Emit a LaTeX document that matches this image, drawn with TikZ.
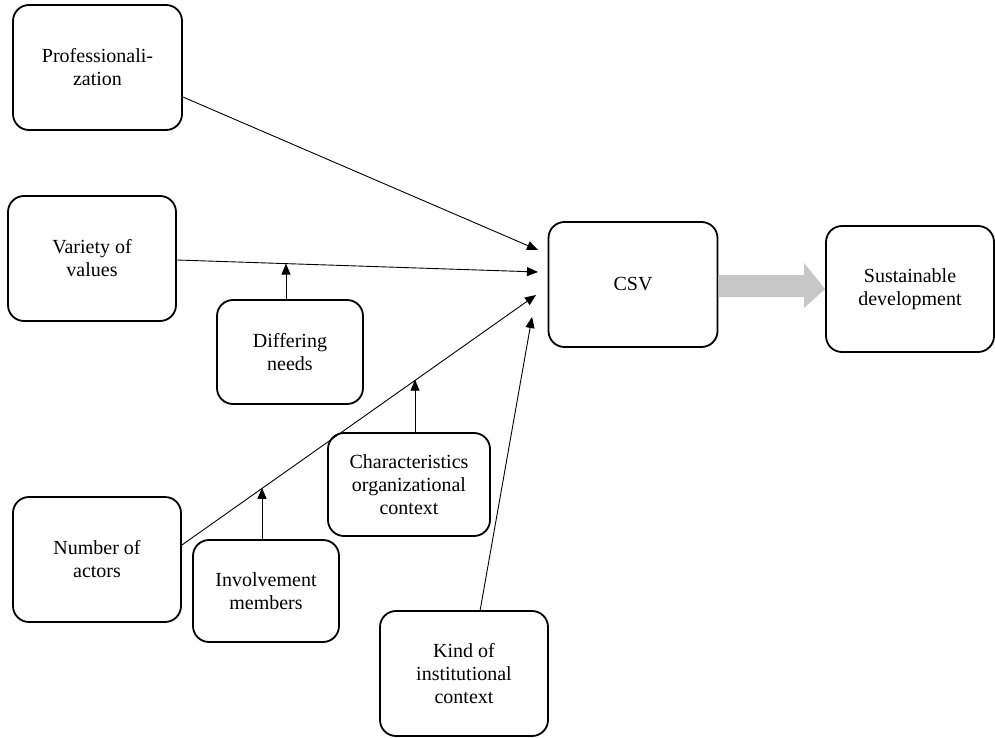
\documentclass[tikz,border=0pt]{standalone}
\usepackage{fontspec}
\setmainfont{Liberation Serif}
\usetikzlibrary{arrows.meta,calc}
\begin{document}
\begin{tikzpicture}[x=1pt,y=-1pt,
  box/.style={draw,line width=1.8pt,rounded corners=16pt,align=center,inner sep=0pt,
    font=\fontsize{20}{23}\selectfont},
  conn/.style={line width=0.9pt,-{Triangle[length=11pt,width=9pt]}},
  thick arrow/.style={fill=black!22,draw=none}]
\useasboundingbox (0,0) rectangle (995,738);
\node[box,minimum width=169pt,minimum height=125pt] (prof) at (97.5,67.5) {Professionali-\\zation};
\node[box,minimum width=168pt,minimum height=125pt] (var) at (92,258.5) {Variety of\\values};
\node[box,minimum width=146pt,minimum height=104pt] (diff) at (290,352) {Differing\\needs};
\node[box,minimum width=169pt,minimum height=125pt] (csv) at (633,284.5) {CSV};
\node[box,minimum width=168pt,minimum height=126pt] (sust) at (910,289) {Sustainable\\development};
\node[box,minimum width=162pt,minimum height=103pt] (char) at (409,484.5) {Characteristics\\organizational\\context};
\node[box,minimum width=168pt,minimum height=125pt] (num) at (97,559.5) {Number of\\actors};
\node[box,minimum width=146pt,minimum height=102pt] (inv) at (266,591) {Involvement\\members};
\node[box,minimum width=168pt,minimum height=125pt] (kind) at (464,673.5) {Kind of\\institutional\\context};
% arrow end points
\coordinate (t1) at (538,250);
\coordinate (t2) at (538,272);
\coordinate (t3) at (536,295);
\coordinate (t4) at (532,317);
\coordinate (s1) at (prof.east |- 0,97);
\coordinate (s2) at (var.east |- 0,260);
\coordinate (s3) at (num.east |- 0,545);
\coordinate (s4) at (480,611);
\draw[conn] (s1) -- (t1);
\draw[conn] (s2) -- (t2);
\draw[conn] (s3) -- (t3);
\draw[conn] (s4) -- (t4);
% moderators
\coordinate (m1) at (286,263.6);
\coordinate (m2) at (415,379.7);
\coordinate (m3) at (262,487.8);
\draw[conn] (diff.north -| m1) -- (m1);
\draw[conn] (char.north -| m2) -- (m2);
\draw[conn] (inv.north -| m3) -- (m3);
% thick arrow
\fill[thick arrow] (csv.east |- 0,275) -- (804,275) -- (804,263) -- (sust.west) -- (804,308) -- (804,297) -- (csv.east |- 0,297) -- cycle;
\end{tikzpicture}
\end{document}
